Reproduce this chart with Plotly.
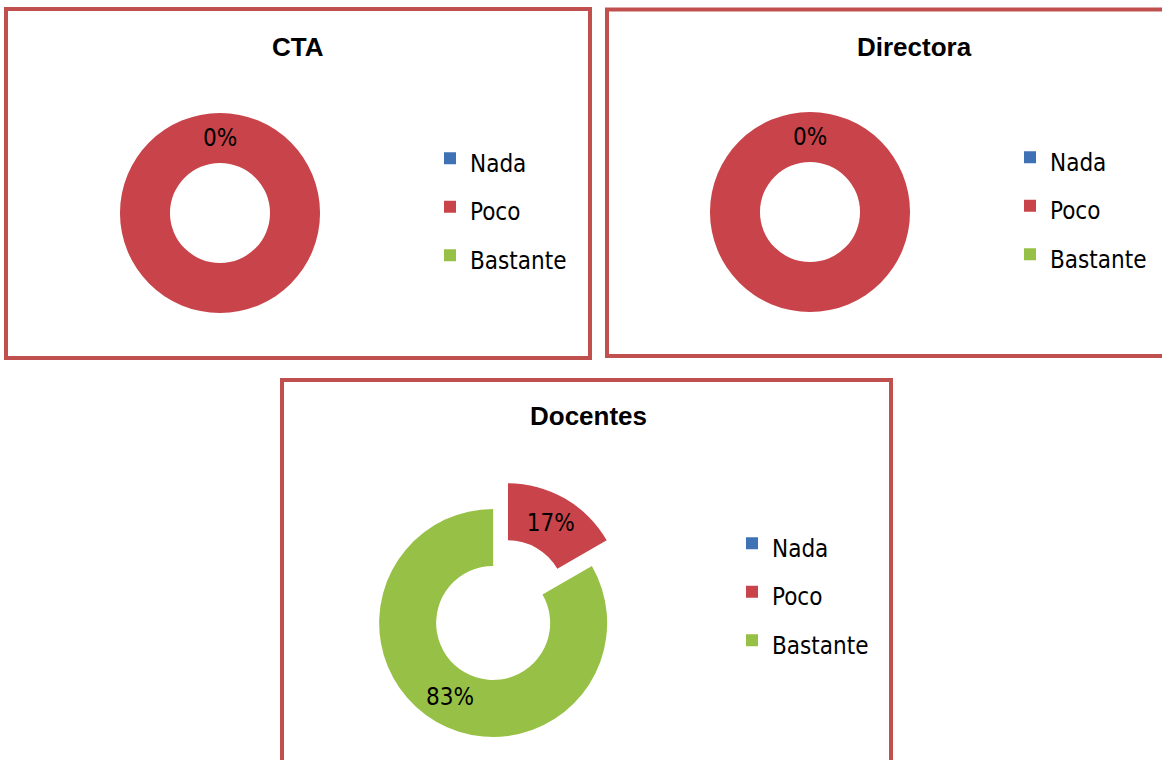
import math
import plotly.graph_objects as go

W, H = 1162, 760

categorias = ["Nada", "Poco", "Bastante"]
colores = ["#3F72B5", "#C8444A", "#97C146"]

cta = [0, 1, 0]
directora = [0, 1, 0]
docentes = [0, 1, 5]

titulos = ["CTA", "Directora", "Docentes"]

BORDE = "#C0504D"
FUENTE = "Liberation Sans Narrow, DejaVu Sans Condensed, Arial Narrow, sans-serif"
TAM = 24


def px(x):
    return x / W


def py(y):
    return 1 - y / H


def dom(cx, cy, r):
    return dict(x=[px(cx - r), px(cx + r)], y=[py(cy + r), py(cy - r)])


def etiqueta(valores, i, cx, cy, r, pull=0.0):
    # texto del porcentaje en el angulo medio de la porcion (sentido horario desde arriba)
    tot = sum(valores)
    ang = 2 * math.pi * (sum(valores[:i]) + valores[i] / 2) / tot
    d = r * (0.75 + pull)
    return dict(text=f"{valores[i] / tot:.0%}", x=px(cx + d * math.sin(ang)), y=py(cy - d * math.cos(ang)),
                xref="paper", yref="paper", xanchor="center", yanchor="middle", showarrow=False,
                font=dict(family=FUENTE, size=TAM, color="black"))


etiquetas = [f"<span style='font-size:{TAM}px'>{c}</span>" for c in categorias]

donas = [
    ("CTA", cta, (220, 213, 100), [0, 0, 0], ["none", "none", "none"], "legend"),
    ("Directora", directora, (810, 212, 100), [0, 0, 0], ["none", "none", "none"], "legend2"),
    ("Docentes", docentes, (496, 618, 114), [0, 0.21, 0.05], ["none", "inside", "none"], "legend3"),
]

fig = go.Figure()
for nombre, vals, (cx, cy, r), pull, tpos, ley_id in donas:
    fig.add_trace(go.Pie(
        labels=etiquetas, values=vals, hole=0.5, sort=False,
        direction="clockwise", rotation=0, pull=pull,
        marker=dict(colors=colores),
        texttemplate="%{percent:.0%}",
        textposition=tpos,
        insidetextorientation="horizontal",
        textfont=dict(family=FUENTE, size=TAM, color="black"),
        domain=dom(cx, cy, r * (1 + max(pull))),
        legend=ley_id, legendgroup=nombre, name=nombre))

# etiquetas de datos que Excel dibuja en el angulo medio
fig.add_annotation(**etiqueta(cta, 0, 220, 213, 100))
fig.add_annotation(**etiqueta(directora, 0, 810, 212, 100))
fig.add_annotation(**etiqueta(docentes, 2, 496, 618, 114, 0.05))

# marcos
marcos = [(6, 9, 590, 358), (607, 9.5, 1225, 356), (282, 380, 891, 790)]
for x0, y0, x1, y1 in marcos:
    fig.add_shape(type="rect", xref="paper", yref="paper",
                  x0=px(x0), x1=px(x1), y0=py(y1), y1=py(y0),
                  line=dict(color=BORDE, width=4))

# titulos
for t, (cx, cy) in zip(titulos, [(298, 47), (914, 47), (588, 416)]):
    fig.add_annotation(text=f"<b>{t}</b>", x=px(cx), y=py(cy), xref="paper", yref="paper",
                       xanchor="center", yanchor="middle", showarrow=False,
                       font=dict(family="Liberation Sans, Arial, sans-serif", size=26, color="black"))

ley = dict(font=dict(family=FUENTE, size=35, color="black"), bgcolor="rgba(0,0,0,0)",
           xanchor="left", yanchor="middle", traceorder="normal")
fig.update_layout(
    width=W, height=H,
    margin=dict(l=0, r=0, t=0, b=0),
    paper_bgcolor="white", plot_bgcolor="white",
    legend=dict(ley, x=px(430), y=py(207)),
    legend2=dict(ley, x=px(1010), y=py(206)),
    legend3=dict(ley, x=px(732), y=py(592)),
)

fig.write_html("out.html", config={"displayModeBar": False},
               post_script="document.body.style.margin='0px';")
